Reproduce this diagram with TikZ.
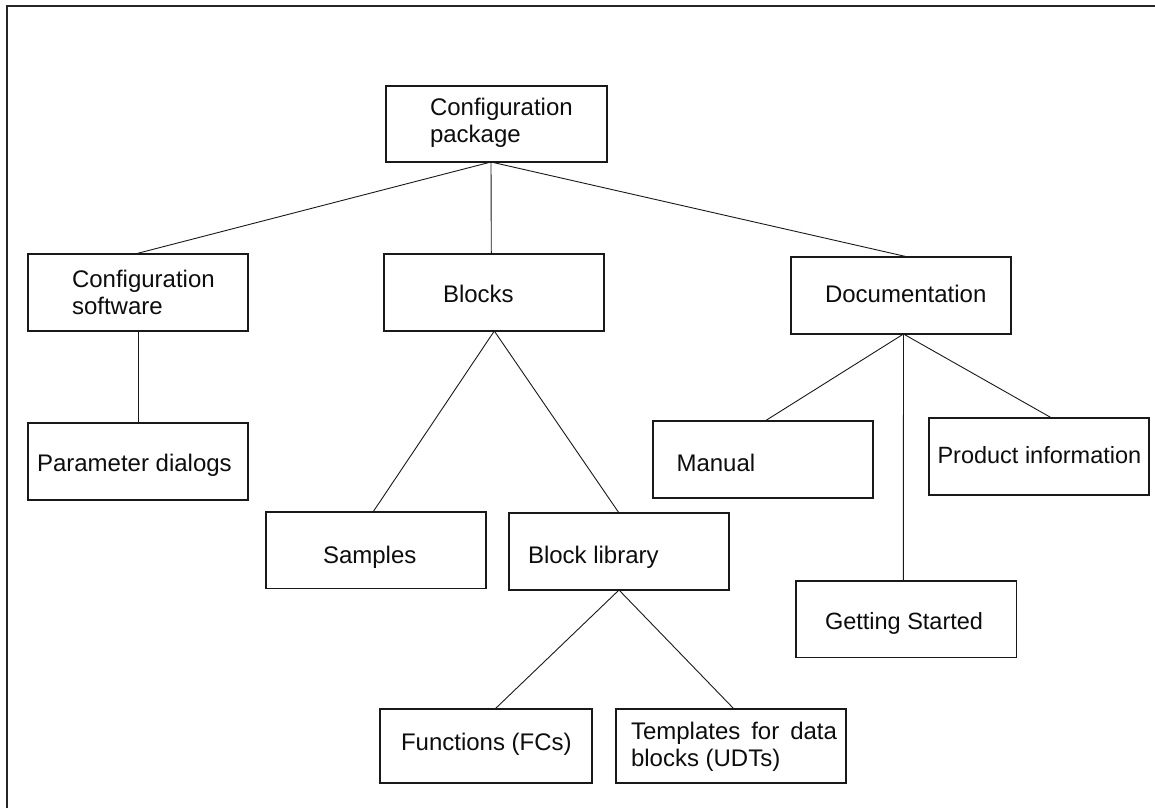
\documentclass[tikz,border=0pt]{standalone}
\usepackage{fontspec}
\setmainfont{Liberation Sans}
\usetikzlibrary{calc}
\newcommand{\boxtext}[5]{% W H dx baseline text
  \parbox[t][#2pt][t]{#1pt}{\fontsize{24}{27.5}\selectfont\parindent=0pt\leftskip=#3pt\rightskip=0pt plus 1fil\rule{0pt}{#4pt}#5}}
\newcommand{\tighter}{\fontsize{23.5}{27.5}\selectfont}
\tikzset{
  x=1pt,y=-1pt,
  boxnode/.style={draw=black!90,line width=1.1pt,inner sep=0pt,outer sep=0pt,anchor=north west,text=black!95,fill=white},
  link/.style={draw=black!90,line width=0.9pt},
  frameline/.style={draw=black!85,line width=1.6pt}
}
\begin{document}
\begin{tikzpicture}
\useasboundingbox (0,0) rectangle (1155,808);
\draw[frameline] (7,808) -- (7,6) -- (1155,6);
\node[boxnode] (cp) at (386,86) {\boxtext{221}{76}{44}{29}{Configuration\\package}};
\node[boxnode] (cs) at (28,254) {\boxtext{220}{77}{44}{33}{Configuration\\software}};
\node[boxnode] (bl) at (384,254) {\boxtext{220}{77}{59}{48}{Blocks}};
\node[boxnode] (doc) at (791,257) {\boxtext{220}{77}{34}{45}{Documentation}};
\node[boxnode] (pd) at (28,423) {\boxtext{220}{77}{9}{48}{Parameter dialogs}};
\node[boxnode] (sa) at (266,512) {\boxtext{220}{76.5}{57}{51}{Samples}};
\node[boxnode] (lib) at (509,513) {\boxtext{220}{77}{19}{50}{Block library}};
\node[boxnode] (ma) at (653,421) {\boxtext{220}{77}{23.5}{50}{Manual}};
\node[boxnode] (pi) at (929,418) {\boxtext{220}{77}{8.5}{45}{\tighter Product information}};
\node[boxnode] (gs) at (796,581) {\boxtext{220.5}{76.5}{29}{48}{\tighter Getting Started}};
\node[boxnode] (fc) at (380,709) {\boxtext{212}{74}{21}{41}{Functions (FCs)}};
\node[boxnode] (ud) at (616,709) {\boxtext{230}{74}{15}{30}{\makebox[206pt][s]{Templates\hfill for\hfill data}\\blocks (UDTs)}};
\draw[link] ($(cp.south west)+(105,0)$) -- ($(cs.north west)+(107,0)$);
\draw[link] ($(cp.south west)+(105,0)$) -- ($(bl.north west)+(107.3,0)$);
\draw[link] ($(cp.south west)+(105,0)$) -- ($(doc.north west)+(117,0)$);
\draw[link] ($(cs.south west)+(110,0)$) -- ($(pd.north west)+(110,0)$);
\draw[link] ($(bl.south west)+(110.3,0)$) -- ($(sa.north west)+(107,0)$);
\draw[link] ($(bl.south west)+(110.3,0)$) -- ($(lib.north west)+(110,0)$);
\draw[link] ($(lib.south west)+(110,0)$) -- ($(fc.north west)+(115,0)$);
\draw[link] ($(lib.south west)+(110,0)$) -- ($(ud.north west)+(118,0)$);
\draw[link] ($(doc.south west)+(112.5,0)$) -- ($(ma.north west)+(112,0)$);
\draw[link] ($(doc.south west)+(112.5,0)$) -- ($(pi.north west)+(122.7,0)$);
\draw[link] ($(doc.south west)+(112.5,0)$) -- ($(gs.north west)+(107.3,0)$);
\end{tikzpicture}
\end{document}
